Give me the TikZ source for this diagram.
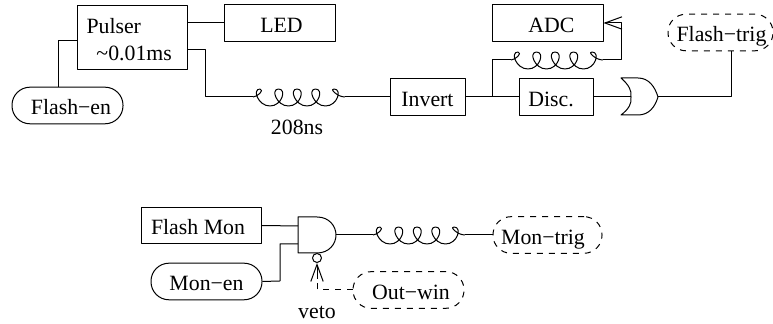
\documentclass[tikz,border=0pt]{standalone}
\usepackage{fontspec}
\setmainfont{Liberation Serif}
\usetikzlibrary{calc,arrows.meta}

\tikzset{
  boxnode/.style={draw, inner sep=0pt, minimum height=18.3pt, text height=9.5pt, text depth=0pt},
  pillnode/.style={draw, rounded corners=9pt, inner sep=0pt, minimum width=55.5pt, minimum height=18.3pt, text height=9.5pt, text depth=0pt},
  dashpill/.style={pillnode, dashed, dash pattern=on 3pt off 3pt},
  coilpic/.pic={
    \draw (0,0) .. controls (4,0) and (12,-7) .. (7,-8)
      foreach \t in {7,25.5,44,62.5} { .. controls (\t-8,-8) and (\t-2,9) .. (\t+10,9) .. controls (\t+22,9) and (\t+27,-8) .. (\t+18.5,-8) }
      .. controls (76,-9) and (84,0) .. (92,0);
  },
  openarrow/.style={-{Straight Barb[length=8.5pt, width=7pt, angle'=40]}},
}

\begin{document}
\begin{tikzpicture}[x=0.5pt, y=-0.5pt, line width=0.5pt, line join=round, font=\fontsize{10.9}{13}\selectfont]
    \useasboundingbox (0,0) rectangle (773,324);
    % upper chain
    \node[draw, inner sep=0pt, minimum width=55pt, minimum height=32pt, align=left, anchor=north west, text width=46pt] (pulser) at (77,5)
      {\rule{0pt}{9.2pt}Pulser\\[0.5pt]\hspace*{5pt}\textasciitilde 0.01ms};
    \node[boxnode, minimum width=55.5pt] (led) at (279.5,23) {\kern2pt LED};
    \node[pillnode] (flashen) at (67.5,105.5) {\kern3.5pt Flash−en};
    \node[boxnode, minimum width=37.5pt] (invert) at (427.5,97) {Invert};
    \node[boxnode, minimum width=37pt] (disc) at (556,97) {Disc.\kern5pt};
    \node[boxnode, minimum width=55.5pt] (adc) at (547.5,23) {\kern4pt ADC};
    \node[dashpill, minimum width=52.5pt] (flashtrig) at (720.5,32.5) {\kern1pt Flash−trig};
    \node (delaytext) at (297,127) {208ns};

    \coordinate (pulserin) at (77,41);
    \coordinate (pulserout) at (187,50);
    \coordinate (coila) at (253,97);
    \coordinate (coilb) at (345,97);
    \coordinate (branch) at (492,97);
    \coordinate (coilc) at (511,60);
    \coordinate (coild) at (603,60);
    \coordinate (orin) at (631,97);
    \coordinate (orout) at (658,97);

    \draw (621,78) .. controls (629,85) and (632,91) .. (orin) .. controls (632,103) and (629,109) .. (621,115)
      -- (638,115) .. controls (649,115) and (655,107) .. (orout) .. controls (655,87) and (649,78) .. (638,78) -- cycle;

    \draw (pulser.east |- led) -- (led.west);
    \draw (flashen.north -| 58,0) |- (pulserin);
    \draw (pulserout) -- ++(18,0) |- (coila);
    \pic at (coila) {coilpic};
    \draw (coilb) -- (invert.west);
    \draw (invert.east) -- (disc.west);
    \draw (branch) |- (coilc);
    \pic at (coilc) {coilpic};
    \draw[openarrow] (coild) -- ++(18,0) |- (adc.east);
    \draw (disc.east) -- (orin);
    \draw (orout) -| (flashtrig.south -| 731,0);

    % lower chain
    \node[boxnode, minimum width=60pt] (flashmon) at (201,225.5) {Flash Mon\kern3pt};
    \node[pillnode] (monen) at (206.5,281.5) {Mon−en};
    \node[dashpill, minimum width=54.5pt] (montrig) at (547.5,235) {Mon−trig\kern4.5pt};
    \node[dashpill] (outwin) at (408.5,290) {\kern2.5pt Out−win};
    \node[draw, circle, inner sep=0pt, minimum size=4.5pt] (bubble) at (317,258) {};
    \node (vetotext) at (317,312) {veto};

    \coordinate (andout) at (336,235);
    \coordinate (coile) at (373,235);
    \coordinate (coilf) at (465,235);
    \coordinate (vetocorner) at (317,290);

    \draw (298,217) -- (317,217) .. controls (329,217) and (336,226) .. (andout) .. controls (336,244) and (329,253) .. (317,253) -- (298,253) -- cycle;

    \draw (flashmon.east) -- (298,226);
    \draw (monen.east) -- (280,281) |- (298,244);
    \draw (andout) -- (coile);
    \pic at (coile) {coilpic};
    \draw (coilf) -- (montrig.west);
    \draw[dashed, dash pattern=on 3pt off 3pt] (outwin.west) -- (vetocorner) -- (317,279);
    \draw[openarrow] (317,279) -- (bubble.south);
\end{tikzpicture}
\end{document}
